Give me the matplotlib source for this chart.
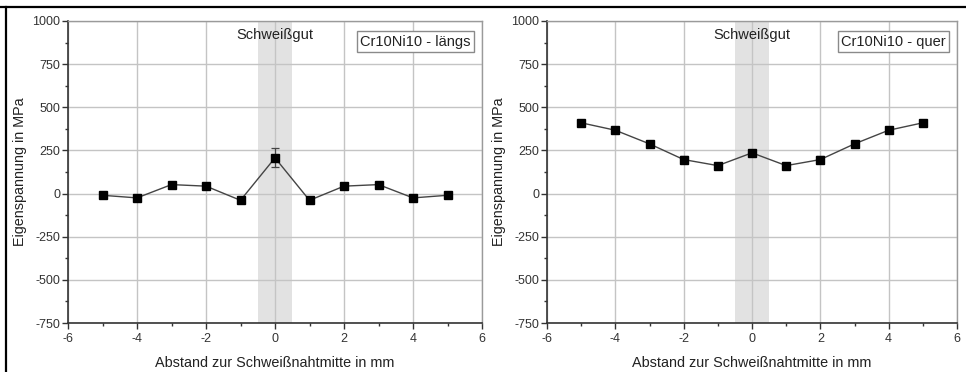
import matplotlib
matplotlib.use("Agg")
import matplotlib.pyplot as plt
from matplotlib.ticker import MultipleLocator

plt.rcParams['font.family'] = ['Liberation Sans', 'DejaVu Sans']
plt.rcParams['axes.unicode_minus'] = False

x_pos = [-5, -4, -3, -2, -1, 0, 1, 2, 3, 4, 5]
laengs = [-10, -25, 52, 43, -39, 207, -39, 43, 52, -25, -10]
laengs_err = [8, 15, 6, 12, 4, 55, 4, 12, 6, 15, 8]
quer = [410, 367, 288, 197, 162, 236, 162, 197, 288, 367, 410]
quer_err = [4, 5, 8, 18, 4, 6, 4, 18, 8, 5, 4]
titles = ["Cr10Ni10 - längs", "Cr10Ni10 - quer"]
zone_label = "Schweißgut"
xlabel = "Abstand zur Schweißnahtmitte in mm"
ylabel = "Eigenspannung in MPa"
zone = (-0.5, 0.5)

W, H = 966, 372
fig = plt.figure(figsize=(W / 100, H / 100), dpi=100)
fig.patch.set_facecolor('white')

rects = [(68, 21, 482, 323), (547, 21, 957, 323)]
series = [(laengs, laengs_err), (quer, quer_err)]

for (l, t, r, b), (vals, errs), title in zip(rects, series, titles):
    ax = fig.add_axes([l / W, 1 - b / H, (r - l) / W, (b - t) / H])
    ax.set_xlim(-6, 6)
    ax.set_ylim(-750, 1000)
    ax.axvspan(zone[0], zone[1], color='#e2e2e2', lw=0, zorder=0)
    ax.xaxis.set_major_locator(MultipleLocator(2))
    ax.xaxis.set_minor_locator(MultipleLocator(1))
    ax.yaxis.set_major_locator(MultipleLocator(250))
    ax.yaxis.set_minor_locator(MultipleLocator(125))
    ax.grid(True, which='major', color='#c4c4c4', lw=1.0, zorder=1)
    ax.set_axisbelow(True)
    for s in ['top', 'right']:
        ax.spines[s].set_color('#9a9a9a')
        ax.spines[s].set_linewidth(1.0)
    for s in ['left', 'bottom']:
        ax.spines[s].set_color('#333333')
        ax.spines[s].set_linewidth(1.2)
    ax.tick_params(which='major', direction='out', length=4, width=1, color='#333333',
                   labelsize=9, labelcolor='#333333', pad=1.5, top=False, right=False)
    ax.tick_params(axis='x', which='major', pad=3)
    ax.tick_params(which='minor', direction='out', length=2, width=1, color='#333333',
                   top=False, right=False)
    ax.errorbar(x_pos, vals, yerr=errs, fmt='-', color='#444444', lw=1.0,
                ecolor='#444444', elinewidth=0.9, capsize=3, capthick=0.9, zorder=3)
    ax.plot(x_pos, vals, 's', color='black', ms=5.5, zorder=4)
    ax.set_xlabel(xlabel, fontsize=10.4, color='#222222', labelpad=8)
    ax.set_ylabel(ylabel, fontsize=10.4, color='#222222', labelpad=4)
    ax.text(0, 920, zone_label, ha='center', va='center', fontsize=10.5, color='#222222', zorder=5)
    ax.text(0.973, 0.955, title, transform=ax.transAxes, ha='right', va='top', fontsize=10.5,
            color='#222222', zorder=5,
            bbox=dict(boxstyle='square,pad=0.22', fc='white', ec='#8a8a8a', lw=1.0))

# figure border lines (top and left)
fig.add_artist(plt.Line2D([0, 1], [1 - 6.5 / H, 1 - 6.5 / H], transform=fig.transFigure,
                          color='black', lw=1.6))
fig.add_artist(plt.Line2D([6 / W, 6 / W], [0, 1 - 6.5 / H], transform=fig.transFigure,
                          color='black', lw=1.6))

fig.savefig('out.png', dpi=100, facecolor='white')
